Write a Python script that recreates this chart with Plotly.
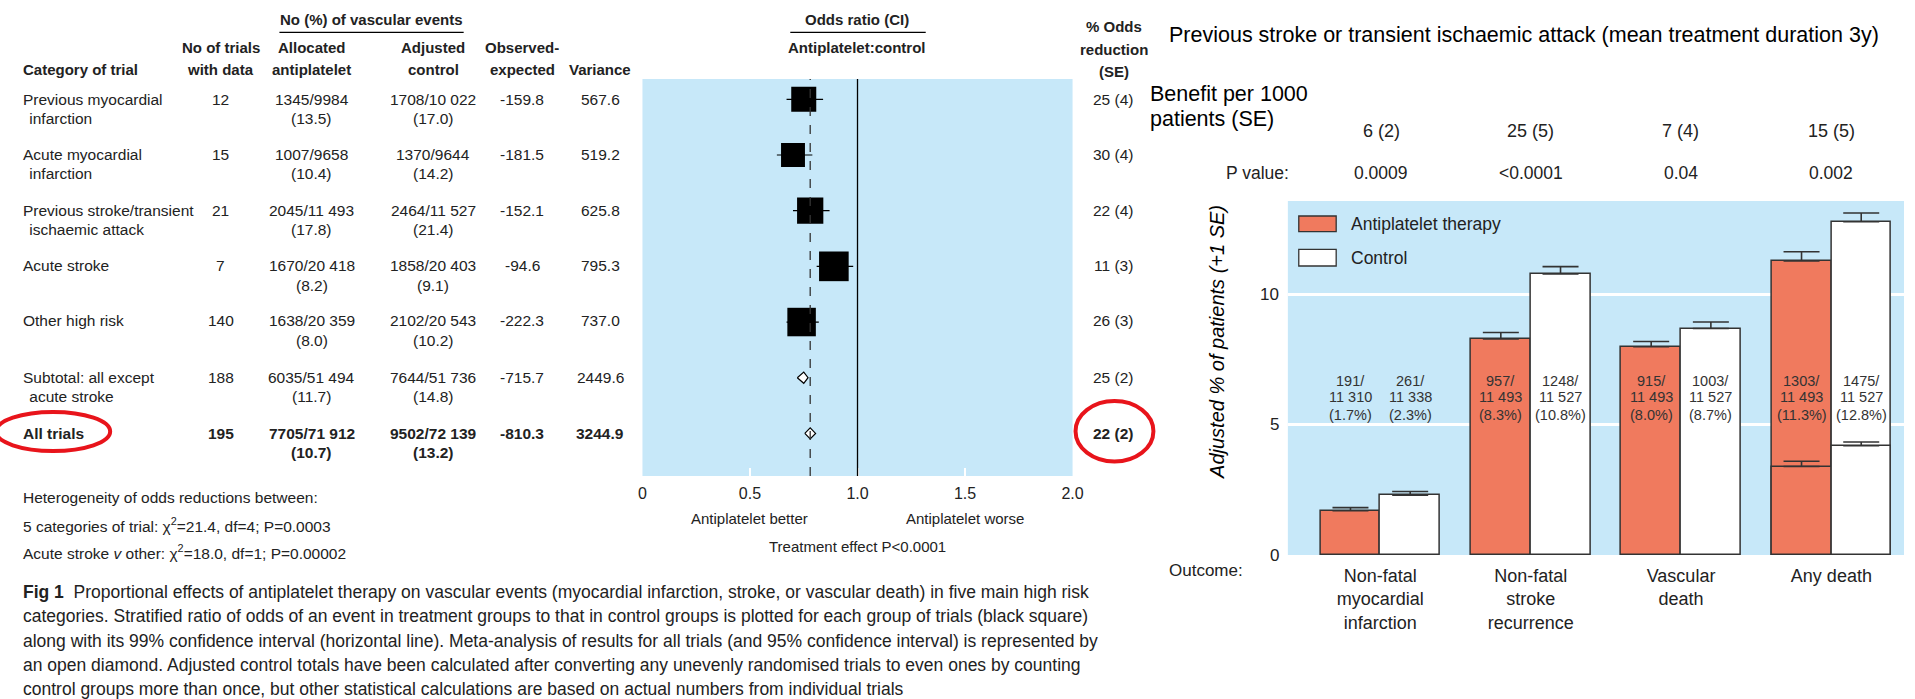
import plotly.graph_objects as go

W, H = 1915, 699
COND = "Liberation Sans, Arial, Helvetica, sans-serif"
SANS = "Liberation Sans, Arial, Helvetica, sans-serif"
BLUE = "#C7E8F9"
ORANGE = "#F07A5E"
INK = "#222222"

# ---------------- forest plot: categories of trial ----------------
category_line1 = ["Previous myocardial", "Acute myocardial", "Previous stroke/transient",
                  "Acute stroke", "Other high risk", "Subtotal: all except", "All trials"]
category_line2 = [" infarction", " infarction", " ischaemic attack", "", "", " acute stroke", ""]
n_trials = [12, 15, 21, 7, 140, 188, 195]
antiplatelet_events = ["1345/9984", "1007/9658", "2045/11 493", "1670/20 418",
                       "1638/20 359", "6035/51 494", "7705/71 912"]
antiplatelet_pct = ["13.5", "10.4", "17.8", "8.2", "8.0", "11.7", "10.7"]
control_events = ["1708/10 022", "1370/9644", "2464/11 527", "1858/20 403",
                  "2102/20 543", "7644/51 736", "9502/72 139"]
control_pct = ["17.0", "14.2", "21.4", "9.1", "10.2", "14.8", "13.2"]
observed_expected = ["-159.8", "-181.5", "-152.1", "-94.6", "-222.3", "-715.7", "-810.3"]
variance = [567.6, 519.2, 625.8, 795.3, 737.0, 2449.6, 3244.9]
odds_reduction = [25, 30, 22, 11, 26, 25, 22]
odds_reduction_se = [4, 4, 4, 3, 3, 2, 2]
ci_low = [0.67, 0.625, 0.70, 0.81, 0.67, 0.72, 0.755]
ci_high = [0.84, 0.79, 0.87, 0.98, 0.82, 0.77, 0.805]
is_summary = [False, False, False, False, False, True, True]
or_ticks = [0, 0.5, 1.0, 1.5, 2.0]
or_tick_labels = ["0", "0.5", "1.0", "1.5", "2.0"]

odds_ratio = [1 - r / 100 for r in odds_reduction]
rows = list(range(len(odds_ratio)))

# ---------------- bar chart: previous stroke / TIA ----------------
outcomes = ["Non-fatal<br>myocardial<br>infarction", "Non-fatal<br>stroke<br>recurrence",
            "Vascular<br>death", "Any death"]
benefit_per_1000 = ["6 (2)", "25 (5)", "7 (4)", "15 (5)"]
p_values = ["0.0009", "<0.0001", "0.04", "0.002"]
ap_events = ["191/", "957/", "915/", "1303/"]
ap_totals = ["11 310", "11 493", "11 493", "11 493"]
ap_pct = [1.7, 8.3, 8.0, 11.3]
ap_se = [0.12, 0.25, 0.20, 0.35]
ctrl_events = ["261/", "1248/", "1003/", "1475/"]
ctrl_totals = ["11 338", "11 527", "11 527", "11 527"]
ctrl_pct = [2.3, 10.8, 8.7, 12.8]
ctrl_se = [0.14, 0.28, 0.25, 0.34]
# non-vascular part of "Any death"
death_part_ap, death_part_ap_se = [3.4], [0.2]
death_part_ctrl, death_part_ctrl_se = [4.2], [0.14]
y_ticks = [0, 5, 10]

xs = list(range(len(outcomes)))
BW = 0.397

fig = go.Figure()


def X(px):
    return px / W


def Y(py):
    return 1 - py / H


def txt(x, y, s, size=16, anchor="center", bold=False, family=COND, color=INK, **kw):
    if bold:
        s = "<b>" + s + "</b>"
    fig.add_annotation(x=X(x), y=Y(y), xref="paper", yref="paper", text=s, showarrow=False,
                       xanchor=anchor, yanchor="middle",
                       font=dict(family=family, size=size, color=color), **kw)


# ----- forest plot marks -----
ci_x, ci_y = [], []
for i in rows:
    if not is_summary[i]:
        ci_x += [ci_low[i], ci_high[i], None]
        ci_y += [i, i, None]
fig.add_trace(go.Scatter(x=ci_x, y=ci_y, mode="lines", line=dict(color="black", width=1.2),
                         hoverinfo="skip", showlegend=False, xaxis="x", yaxis="y"))

sq = [i for i in rows if not is_summary[i]]
fig.add_trace(go.Scatter(
    x=[odds_ratio[i] for i in sq], y=sq, mode="markers",
    marker=dict(symbol="square", color="black", opacity=1,
                size=[variance[i] ** 0.5 * 1.05 for i in sq], line=dict(width=0)),
    showlegend=False, xaxis="x", yaxis="y"))

for i in rows:
    if is_summary[i]:
        fig.add_trace(go.Scatter(
            x=[ci_low[i], odds_ratio[i], ci_high[i], odds_ratio[i], ci_low[i]],
            y=[i, i - 0.1, i, i + 0.1, i],
            mode="lines", fill="toself", fillcolor="white",
            line=dict(color="black", width=1.2), showlegend=False, xaxis="x", yaxis="y"))

fig.add_shape(type="line", xref="x", yref="y domain", x0=1, x1=1, y0=0, y1=1,
              line=dict(color="black", width=1.3))
fig.add_shape(type="line", xref="x", yref="y domain", x0=odds_ratio[-1], x1=odds_ratio[-1],
              y0=0, y1=1, line=dict(color="#333", width=1.3, dash="dash"))

# ----- bar chart marks -----
err = dict(type="data", symmetric=False, color="#333", thickness=1.6, width=18)
fig.add_trace(go.Bar(x=xs, y=ap_pct, offset=-BW, width=BW, marker=dict(color=ORANGE, line=dict(color="#333", width=1.5)),
                     error_y=dict(array=ap_se, arrayminus=[0] * 4, **err),
                     name="Antiplatelet therapy", showlegend=False, xaxis="x2", yaxis="y2"))
fig.add_trace(go.Bar(x=xs, y=ctrl_pct, offset=0, width=BW, marker=dict(color="white", line=dict(color="#333", width=1.5)),
                     error_y=dict(array=ctrl_se, arrayminus=[0] * 4, **err),
                     name="Control", showlegend=False, xaxis="x2", yaxis="y2"))
fig.add_trace(go.Bar(x=[xs[3]], y=death_part_ap, offset=-BW, width=BW,
                     marker=dict(color=ORANGE, line=dict(color="#333", width=1.5)),
                     error_y=dict(array=death_part_ap_se, arrayminus=[0], **err),
                     showlegend=False, xaxis="x2", yaxis="y2"))
fig.add_trace(go.Bar(x=[xs[3]], y=death_part_ctrl, offset=0, width=BW,
                     marker=dict(color="white", line=dict(color="#333", width=1.5)),
                     error_y=dict(array=death_part_ctrl_se, arrayminus=[0], **err),
                     showlegend=False, xaxis="x2", yaxis="y2"))

# bar labels (events / total / percent)
for k in xs:
    for dx, ev, tot, pc in ((-BW / 2, ap_events[k], ap_totals[k], ap_pct[k]),
                            (BW / 2, ctrl_events[k], ctrl_totals[k], ctrl_pct[k])):
        for line, yy in ((ev, 6.7), (tot, 6.07), (f"({pc}%)", 5.38)):
            fig.add_annotation(x=k + dx, y=yy, xref="x2", yref="y2", text=line, showarrow=False,
                               font=dict(family=COND, size=14.5, color="#333"))

# value labels of the percentage axis
for v in y_ticks:
    fig.add_annotation(x=X(1287), y=v, xref="paper", yref="y2", text=str(v), showarrow=False,
                       xanchor="right", font=dict(family=COND, size=17, color=INK))

fig.update_layout(
    width=W, height=H, margin=dict(l=0, r=0, t=0, b=0),
    paper_bgcolor="white", plot_bgcolor=BLUE, bargap=0,
    barmode="overlay",
    xaxis=dict(domain=[X(643.5), X(1077)], range=[0, 2], tickvals=or_ticks, ticktext=or_tick_labels,
               ticks="inside", ticklen=8, tickwidth=2, tickcolor="white", showgrid=False,
               zeroline=False, showline=False, ticklabelstandoff=6,
               tickfont=dict(family=COND, size=16, color=INK)),
    yaxis=dict(domain=[Y(476), Y(79)], range=[6.765, -0.365], visible=False),
    xaxis2=dict(domain=[X(1294), 1], range=[-0.615, 3.483], tickvals=xs, ticktext=outcomes,
                ticks="", showgrid=False, zeroline=False, showline=False, ticklabelstandoff=8,
                tickfont=dict(family=COND, size=18, color=INK), anchor="y2"),
    yaxis2=dict(domain=[Y(555), Y(201)], range=[0, 13.6], tickvals=y_ticks, showgrid=True,
                showticklabels=False,
                gridcolor="white", gridwidth=3, zeroline=False, showline=False, ticks="",
                anchor="x2"),
)

# ----- table headings -----
HS = 15
txt(370, 19, "No (%) of vascular events", HS, bold=True)
fig.add_shape(type="line", xref="paper", yref="paper", x0=X(277.6), x1=X(463.3), y0=Y(32.3), y1=Y(32.3),
              line=dict(color="black", width=1.2))
txt(17, 70, "Category of trial", HS, "left", True)
for cx, l1, l2 in ((218.4, "No of trials", "with data"), (310.2, "Allocated", "antiplatelet"),
                   (432.7, "Adjusted", "control"), (522.4, "Observed-", "expected")):
    txt(cx, 47.3, l1, HS, bold=True)
    txt(cx, 69.5, l2, HS, bold=True)
txt(601.2, 69.5, "Variance", HS, bold=True)

txt(860, 19, "Odds ratio (CI)", HS, bold=True)
fig.add_shape(type="line", xref="paper", yref="paper", x0=X(792.5), x1=X(929), y0=Y(32.3), y1=Y(32.3),
              line=dict(color="black", width=1.2))
txt(860, 47.3, "Antiplatelet:control", HS, bold=True)
txt(1118.5, 26.7, "% Odds", HS, bold=True)
txt(1118.5, 49, "reduction", HS, bold=True)
txt(1118.5, 71, "(SE)", HS, bold=True)

# ----- table rows -----
RS = 15.5
row_y1 = [99.3, 154.3, 210.3, 265.7, 321.0, 377.3, 433.3]
for i in rows:
    b = i == len(rows) - 1
    y1, y2 = row_y1[i], row_y1[i] + 19.5
    txt(17, y1, category_line1[i], RS, "left", b)
    if category_line2[i]:
        txt(19, y2, category_line2[i], RS, "left", b)
    txt(218.4, y1, str(n_trials[i]), RS, bold=b)
    txt(310.2, y1, antiplatelet_events[i], RS, bold=b)
    txt(310.2, y2, f"({antiplatelet_pct[i]})", RS, bold=b)
    txt(432.7, y1, control_events[i], RS, bold=b)
    txt(432.7, y2, f"({control_pct[i]})", RS, bold=b)
    txt(522.4, y1, observed_expected[i], RS, bold=b)
    txt(601.2, y1, f"{variance[i]:.1f}", RS, bold=b)
    txt(1118.5, y1, f"{odds_reduction[i]} ({odds_reduction_se[i]})", RS, bold=b)

# ----- forest axis captions -----
txt(751.4, 518, "Antiplatelet better", 15)
txt(968.2, 518, "Antiplatelet worse", 15)
txt(860, 546.7, "Treatment effect P&lt;0.0001", 15)

# ----- heterogeneity notes and caption -----
txt(17, 497, "Heterogeneity of odds reductions between:", 15.5, "left")
txt(17, 525, "5 categories of trial: χ<sup>2</sup>=21.4, df=4; P=0.0003", 15.5, "left")
txt(17, 552, "Acute stroke <i>v</i> other: χ<sup>2</sup>=18.0, df=1; P=0.00002", 15.5, "left")
caption = [
    "<b>Fig 1</b>&nbsp; Proportional effects of antiplatelet therapy on vascular events (myocardial infarction, stroke, or vascular death) in five main high risk",
    "categories. Stratified ratio of odds of an event in treatment groups to that in control groups is plotted for each group of trials (black square)",
    "along with its 99% confidence interval (horizontal line). Meta-analysis of results for all trials (and 95% confidence interval) is represented by",
    "an open diamond. Adjusted control totals have been calculated after converting any unevenly randomised trials to even ones by counting",
    "control groups more than once, but other statistical calculations are based on actual numbers from individual trials",
]
for j, line in enumerate(caption):
    txt(17, 592 + 24.3 * j, line, 17.5, "left")

# ----- right panel headings -----
txt(1172, 35, "Previous stroke or transient ischaemic attack (mean treatment duration 3y)", 21.5, "left", family=SANS, color="black")
txt(1153, 93.5, "Benefit per 1000", 21.5, "left", family=SANS, color="black")
txt(1153, 119.5, "patients (SE)", 21.5, "left", family=SANS, color="black")
group_px = [1388.1, 1538.9, 1690.2, 1841.9]
for k in xs:
    txt(group_px[k], 131, benefit_per_1000[k], 18)
    txt(group_px[k], 173, p_values[k].replace("<", "&lt;"), 17.5)
txt(1263, 173, "P value:", 17.5)
txt(1211.7, 570, "Outcome:", 17)
txt(1223, 341.5, "<i>Adjusted % of patients (+1 SE)</i>", 20, family=SANS, color="black",
    textangle=-90)

# legend
for (y0, y1, col, lab) in ((216, 231.7, ORANGE, "Antiplatelet therapy"), (249.3, 266, "white", "Control")):
    fig.add_shape(type="rect", xref="paper", yref="paper", x0=X(1305), x1=X(1342.7), y0=Y(y1), y1=Y(y0),
                  fillcolor=col, line=dict(color="#333", width=1.3))
    txt(1356, (y0 + y1) / 2, lab, 17.5, "left")

# highlight rings
fig.add_shape(type="circle", xref="paper", yref="paper", x0=X(-8), x1=X(107), y0=Y(451), y1=Y(412),
              line=dict(color="#E8141B", width=4))
fig.add_shape(type="circle", xref="paper", yref="paper", x0=X(1080), x1=X(1158.5), y0=Y(461.5), y1=Y(401),
              line=dict(color="#E8141B", width=4))

fig.write_html("out.html")
